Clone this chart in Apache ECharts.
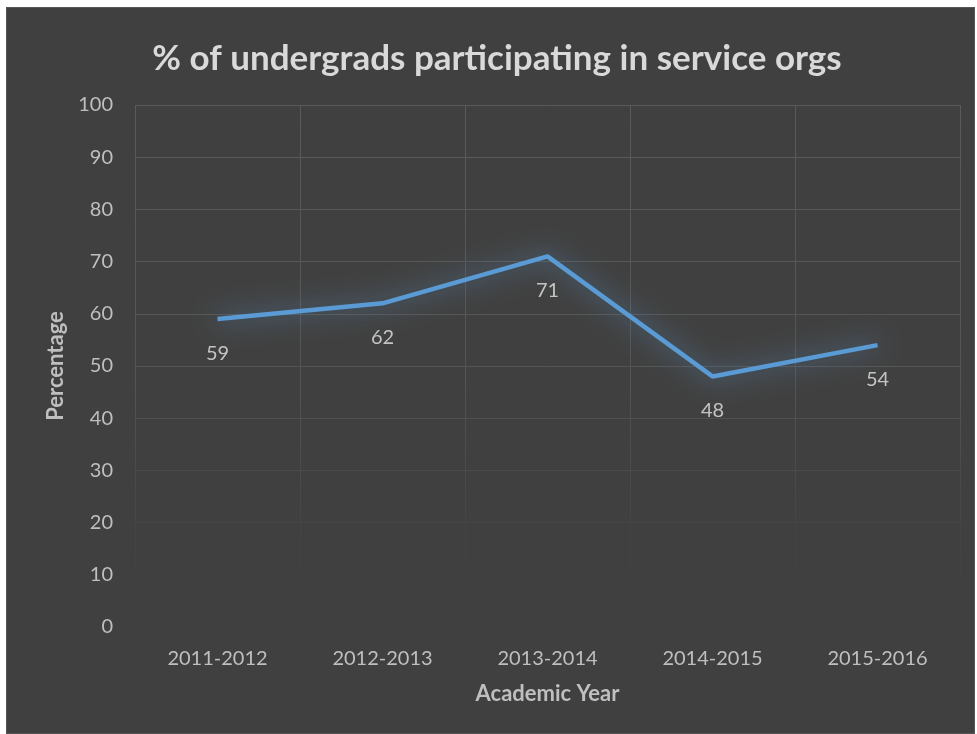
<!DOCTYPE html>
<html>
<head>
<meta charset="utf-8">
<script src="https://cdn.jsdelivr.net/npm/echarts@6/dist/echarts.min.js"></script>
<style>
html,body{margin:0;padding:0;background:#ffffff;}
#wrap{position:absolute;left:6px;top:7px;width:969px;height:727px;background:#404040;border:1px solid #555;box-sizing:border-box;}
#chart{width:100%;height:100%;}
</style>
</head>
<body>
<div id="wrap"><div id="chart"></div></div>
<script>
const titleText = '% of undergrads participating in service orgs';
const categories = ['2011-2012','2012-2013','2013-2014','2014-2015','2015-2016'];
const values = [59, 62, 71, 48, 54];
const xName = 'Academic Year';
const yName = 'Percentage';

const chart = echarts.init(document.getElementById('chart'));
const fontFam = 'Lato, "Open Sans", sans-serif';
function fade(){
  return {type:'linear', x:0, y:98, x2:0, y2:600, global:true,
    colorStops:[{offset:0,color:'#5a5a5a'},{offset:0.55,color:'#545454'},{offset:0.85,color:'#444444'},{offset:1,color:'#404040'}]};
}
chart.setOption({
  backgroundColor:'#404040',
  title:{text:titleText,left:485,textAlign:'center',top:28,
    textStyle:{color:'#d9d9d9',fontSize:35,fontWeight:'bold',fontFamily:fontFam}},
  grid:{left:128,right:14,top:97,bottom:106,containLabel:false},
  xAxis:{type:'category',data:categories,boundaryGap:true,
    name:xName,nameLocation:'middle',nameGap:56,
    nameTextStyle:{color:'#bfbfbf',fontSize:22,fontWeight:'bold',fontFamily:fontFam},
    axisLine:{show:false},axisTick:{show:false},
    axisLabel:{color:'#bfbfbf',fontSize:20,fontFamily:fontFam,margin:22},
    splitLine:{show:true,lineStyle:{color:fade(),width:1}}},
  yAxis:{type:'value',min:0,max:100,interval:10,
    name:yName,nameLocation:'middle',nameGap:68,nameRotate:90,
    nameTextStyle:{color:'#bfbfbf',fontSize:22,fontWeight:'bold',fontFamily:fontFam},
    axisLine:{show:false},axisTick:{show:false},
    axisLabel:{color:'#bfbfbf',fontSize:20,fontFamily:fontFam,margin:22},
    splitLine:{show:true,lineStyle:{color:fade(),width:1}}},
  series:[{type:'line',data:values,symbol:'circle',symbolSize:1,showSymbol:true,
    itemStyle:{color:'rgba(0,0,0,0)'},
    lineStyle:{color:'#5b9bd5',width:4.5,shadowColor:'rgba(91,155,213,0.85)',shadowBlur:24},
    label:{show:true,position:'bottom',distance:24,color:'#c4c4c4',fontSize:20,fontFamily:fontFam},
    animation:false}],
  animation:false
});
</script>
</body>
</html>
